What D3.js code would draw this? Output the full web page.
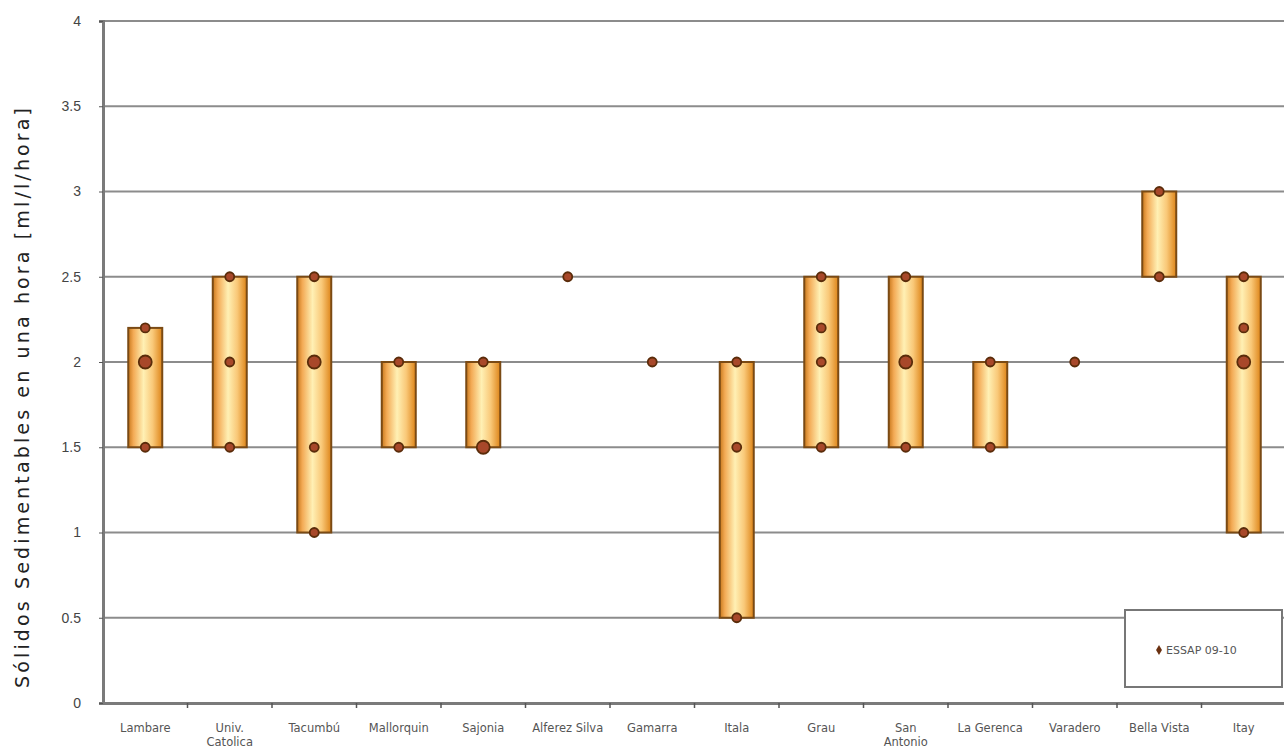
<!DOCTYPE html>
<html><head><meta charset="utf-8">
<script src="https://cdn.jsdelivr.net/npm/d3@7"></script>
<style>body{margin:0;background:#fff;} svg{display:block;font-family:"DejaVu Sans",sans-serif;}</style>
</head><body>
<script>
const categories = ["Lambare","Univ. Catolica","Tacumbú","Mallorquin","Sajonia","Alferez Silva","Gamarra","Itala","Grau","San Antonio","La Gerenca","Varadero","Bella Vista","Itay"];
const samples = [
  [2.2, 2, 2, 1.5],
  [2.5, 2, 1.5],
  [2.5, 2, 2, 1.5, 1],
  [2, 1.5],
  [2, 1.5, 1.5],
  [2.5],
  [2],
  [2, 1.5, 0.5],
  [2.5, 2.2, 2, 1.5],
  [2.5, 2, 2, 1.5],
  [2, 1.5],
  [2],
  [3, 2.5],
  [2.5, 2.2, 2, 2, 1]
];
const yTicks = [0, 0.5, 1, 1.5, 2, 2.5, 3, 3.5, 4];
const seriesName = "ESSAP 09-10";
const yTitle = "Sólidos Sedimentables en una hora [ml/l/hora]";

const W = 1284, H = 753;
const m = {left:103, right:0, top:21, bottom:50};
const svg = d3.select("body").append("svg").attr("width", W).attr("height", H);

const x = d3.scaleBand().domain(categories).range([m.left, 1286]).padding(0);
const y = d3.scaleLinear().domain([0, 4]).range([H - m.bottom, m.top]);

const defs = svg.append("defs");
const g = defs.append("linearGradient").attr("id","barg").attr("x1","0").attr("x2","1").attr("y1","0").attr("y2","0");
[[0,"#c8781c"],[0.15,"#f3aa55"],[0.45,"#fff0b4"],[0.72,"#f9c878"],[1,"#dd8418"]].forEach(([o,c])=>g.append("stop").attr("offset",o).attr("stop-color",c));

// gridlines
svg.append("g").selectAll("line").data(yTicks.filter(t=>t>0)).join("line")
  .attr("x1", m.left).attr("x2", W).attr("y1", d=>y(d)).attr("y2", d=>y(d))
  .attr("stroke","#8c8c8c").attr("stroke-width",2);

// y axis
const ya = svg.append("g").attr("transform",`translate(${m.left},0)`)
  .call(d3.axisLeft(y).tickValues(yTicks).tickSize(4).tickFormat(d=>String(d)));
ya.select(".domain").attr("stroke","#7a7a7a").attr("stroke-width",3);
ya.selectAll(".tick line").attr("stroke","#555");
ya.selectAll("text").attr("font-size",14).attr("fill","#444").attr("x",-22);

// x axis
const xa = svg.append("g").attr("transform",`translate(0,${y(0)})`)
  .call(d3.axisBottom(x).tickSize(0).tickFormat(""));
xa.select(".domain").attr("stroke","#7a7a7a").attr("stroke-width",3);
svg.append("g").selectAll("line").data(categories.slice(1)).join("line")
  .attr("x1", d=>x(d)).attr("x2", d=>x(d)).attr("y1", y(0)).attr("y2", y(0)+5)
  .attr("stroke","#555").attr("stroke-width",1.5);

// x labels (wrap)
const xl = svg.append("g").selectAll("text").data(categories).join("text")
  .attr("x", d=>x(d)+x.bandwidth()/2).attr("y", y(0)+29)
  .attr("text-anchor","middle").attr("font-size",11.5).attr("fill","#555");
xl.each(function(d){
  const t = d3.select(this);
  const parts = (d==="Univ. Catolica") ? ["Univ.","Catolica"] : (d==="San Antonio") ? ["San","Antonio"] : [d];
  parts.forEach((p,i)=>t.append("tspan").attr("x", x(d)+x.bandwidth()/2).attr("dy", i===0?0:14).text(p));
});

// y title
svg.append("text").attr("transform",`translate(29,398) rotate(-90)`)
  .attr("text-anchor","middle").attr("font-size",19).attr("fill","#222")
  .attr("textLength",580).attr("lengthAdjust","spacing").text(yTitle);

// bars (range min-max)
const bw = 34;
svg.append("g").selectAll("rect").data(categories.map((c,i)=>({c, v:samples[i]})).filter(d=>d3.max(d.v)>d3.min(d.v))).join("rect")
  .attr("x", d=>x(d.c)+x.bandwidth()/2-bw/2).attr("width", bw)
  .attr("y", d=>y(d3.max(d.v))).attr("height", d=>y(d3.min(d.v))-y(d3.max(d.v)))
  .attr("fill","url(#barg)").attr("stroke","#7a4a14").attr("stroke-width",2);

// points
const pts = [];
categories.forEach((c,i)=>{
  const counts = d3.rollup(samples[i], v=>v.length, v=>v);
  counts.forEach((n,v)=>pts.push({c, v, n}));
});
svg.append("g").selectAll("circle").data(pts).join("circle")
  .attr("cx", d=>x(d.c)+x.bandwidth()/2).attr("cy", d=>y(d.v))
  .attr("r", d=> d.n>1 ? 6.5 : 4.5)
  .attr("fill","#a8482a").attr("stroke","#5a2c0a").attr("stroke-width",1.8);

// legend
const lg = svg.append("g");
lg.append("rect").attr("x",1125).attr("y",610).attr("width",157).attr("height",77)
  .attr("fill","#fff").attr("stroke","#777").attr("stroke-width",2);
lg.append("path").attr("transform","translate(1159,650)").attr("d", d3.symbol(d3.symbolDiamond, 30)()).attr("fill","#6a3010");
lg.append("text").attr("x",1166).attr("y",654).attr("font-size",11).attr("fill","#555").text(seriesName);
</script>
</body></html>
